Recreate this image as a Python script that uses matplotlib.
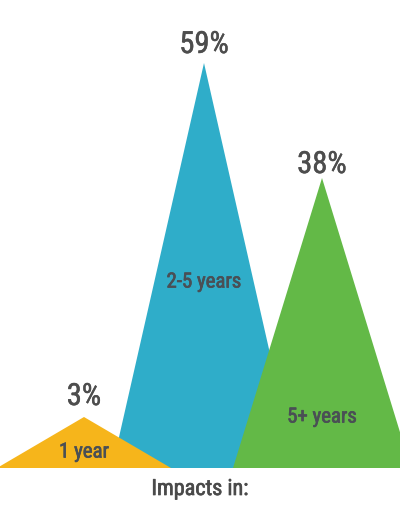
import matplotlib.pyplot as plt
import matplotlib.patheffects as pe
from matplotlib.patches import Polygon
from matplotlib import font_manager

names = {f.name for f in font_manager.fontManager.ttflist}
fam = "Roboto Condensed" if "Roboto Condensed" in names else "DejaVu Sans"

labels = ["1 year", "2-5 years", "5+ years"]
pct = [3, 59, 38]
# peak heights and positions (px above baseline)
heights = [51, 405, 290]
centers = [84, 204, 322]
halfw = [87, 92, 89]
colors = ["#F6B51B", "#2FADC9", "#63B947"]
label_y = [16, 186, 51]
pct_gap = [12, 10, 5]
draw_order = [1, 2, 0]

fig = plt.figure(figsize=(4, 5.16), dpi=100)
ax = fig.add_axes([0, 48 / 516, 1, 468 / 516])
ax.set_xlim(0, 400)
ax.set_ylim(0, 468)
ax.axis("off")

for i in draw_order:
    c, w, h = centers[i], halfw[i], heights[i]
    ax.add_patch(Polygon([(c - w, 0), (c, h), (c + w, 0)], closed=True,
                         facecolor=colors[i], edgecolor="none"))


def thick(col, lw):
    return [pe.withStroke(linewidth=lw, foreground=col)]


for i in range(3):
    ax.text(centers[i], heights[i] + pct_gap[i], f"{pct[i]}%", ha="center",
            va="baseline", fontsize=22, color="#4d4d4d", family=fam,
            path_effects=thick("#4d4d4d", 0.35))
    ax.text(centers[i], label_y[i], labels[i], ha="center", va="center",
            fontsize=15, color="#4a4f55", family=fam,
            path_effects=thick("#4a4f55", 0.5))

fig.text(0.5, 1 - 495 / 516, "Impacts in:", ha="center", va="baseline",
         fontsize=16, color="#4a4a4a", family=fam,
         path_effects=thick("#4a4a4a", 0.5))

fig.savefig("out.png", dpi=100)
